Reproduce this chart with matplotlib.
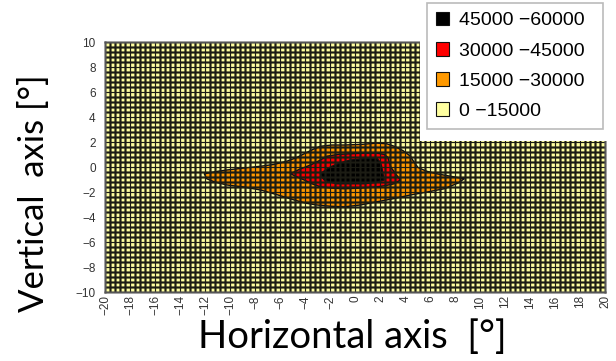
import matplotlib
matplotlib.use('Agg')
import matplotlib.pyplot as plt
from matplotlib.patches import Patch, Rectangle
import numpy as np

# ---- data (contour band outlines, degrees) ----
level_labels = ['45000 \u221260000', '30000 \u221245000', '15000 \u221230000', '0 \u221215000']
level_colors = ['#000000', '#FF0000', '#FF9900', '#FFFFA0']

orange_x = [-12.1, -11.0, -10.3, -9.0, -7.6, -6.5, -5.5, -4.7, -4.1, -3.4, -2.8, -1.9, -0.9,
            0.5, 1.7, 2.5, 3.1, 3.8, 4.4, 4.7, 5.0, 5.7, 6.5, 7.6, 8.7,
            8.2, 7.1, 5.8, 4.4, 3.0, 1.7, 0.4, -0.9, -2.0, -3.1, -4.0, -4.9, -6.2, -7.6,
            -9.0, -10.3, -11.3, -11.9]
orange_y = [-0.5, -0.3, -0.2, -0.05, 0.1, 0.25, 0.5, 0.8, 1.1, 1.45, 1.7, 1.8, 1.8,
            1.85, 1.95, 1.9, 1.7, 1.35, 0.9, 0.4, 0.0, -0.3, -0.5, -0.7, -0.9,
            -1.25, -1.7, -1.95, -2.2, -2.5, -2.75, -3.0, -3.15, -3.1, -3.0, -2.85, -2.6, -2.2, -1.8,
            -1.55, -1.4, -1.15, -0.9]
red_x = [-5.2, -4.5, -3.6, -2.9, -2.3, -1.4, -0.4, 0.7, 1.7, 2.3, 2.6, 2.7, 2.85, 3.2, 3.6,
         3.1, 2.4, 1.7, 0.4, -0.9, -1.9, -2.8, -3.5, -4.1, -4.7]
red_y = [-0.5, -0.15, 0.2, 0.55, 0.9, 1.05, 1.1, 1.15, 1.15, 1.05, 0.8, 0.4, 0.0, -0.5, -1.0,
         -1.3, -1.45, -1.55, -1.65, -1.7, -1.65, -1.55, -1.3, -1.0, -0.75]
black_x = [-2.8, -2.4, -2.0, -1.3, -0.4, 0.6, 1.7, 2.0, 2.1, 2.2, 2.3,
           1.6, 0.7, -0.4, -1.5, -2.1, -2.5, -2.7]
black_y = [-0.5, -0.2, 0.05, 0.35, 0.6, 0.7, 0.75, 0.4, 0.05, -0.5, -1.0,
           -1.2, -1.3, -1.3, -1.3, -1.15, -1.0, -0.75]

x_ticks = list(range(-20, 21, 2))
y_ticks = list(range(-10, 11, 2))

W, H = 616, 361
fig = plt.figure(figsize=(W / 100, H / 100), dpi=100)
ax = fig.add_axes([105.5 / W, 68.5 / H, 500 / W, 250 / H])
ax.set_xlim(-20, 20)
ax.set_ylim(-10, 10)
ax.set_facecolor(level_colors[3])

for xs, ys, c in [(orange_x, orange_y, level_colors[2]),
                  (red_x, red_y, level_colors[1]),
                  (black_x, black_y, level_colors[0])]:
    ax.fill(xs, ys, facecolor=c, edgecolor='#111111', linewidth=1.0,
            joinstyle='round', zorder=1)

gx = np.linspace(-20, 20, 101)
gy = np.linspace(-10, 10, 51)
ax.set_xticks(x_ticks)
ax.set_yticks(y_ticks)
ax.set_xticks(gx, minor=True)
ax.set_yticks(gy, minor=True)
# soft halo + dark core gives the slightly blurred mesh look of the original
ax.grid(which='minor', color='#1c1c14', linewidth=2.1, alpha=0.55, snap=False)
ax.vlines(gx, -10, 10, colors='#1c1c14', linewidth=0.86, snap=False, zorder=2.6)
ax.hlines(gy, -20, 20, colors='#1c1c14', linewidth=0.86, snap=False, zorder=2.6)
ax.grid(which='major', visible=False)
ax.set_axisbelow(False)
ax.tick_params(which='both', length=0)
ax.tick_params(axis='x', labelrotation=90, pad=2)
ax.tick_params(axis='y', pad=7)
for lab in ax.get_xticklabels() + ax.get_yticklabels():
    lab.set_fontfamily('Liberation Sans')
    lab.set_fontsize(8.5)
    lab.set_color('#333333')
for s in ax.spines.values():
    s.set_color('#555555')
    s.set_linewidth(1.5)
    s.set_snap(False)
    s.set_zorder(3)

fig.text(352.5 / W, 1 - 348 / H, 'Horizontal axis  [\u00b0]', family='Lato',
         fontsize=27.5, ha='center', va='baseline')
fig.text(34 / W, 1 - 193 / H, 'Vertical  axis [\u00b0]', family='Lato',
         fontsize=25, ha='center', va='center', rotation=90)

# white area behind the legend
fig.patches.append(Rectangle((420 / W, 1 - 141 / H), 196 / W, 141 / H,
                             transform=fig.transFigure, facecolor='white',
                             edgecolor='none', zorder=4))
handles = [Patch(facecolor=c, edgecolor='#111111', linewidth=0.8) for c in level_colors]
leg = fig.legend(handles, level_labels, loc='upper left', mode='expand',
                 bbox_to_anchor=(427 / W, 1 - 131 / H, 176 / W, 128 / H),
                 prop={'family': 'Liberation Sans', 'size': 14},
                 handlelength=0.7, handleheight=0.7, handletextpad=0.5,
                 labelspacing=0.65, borderpad=0.45, borderaxespad=0,
                 fancybox=False, framealpha=1, edgecolor='#BBBBBB')
leg.set_zorder(6)
leg.get_frame().set_linewidth(1.2)

fig.savefig('out.png', dpi=100)
